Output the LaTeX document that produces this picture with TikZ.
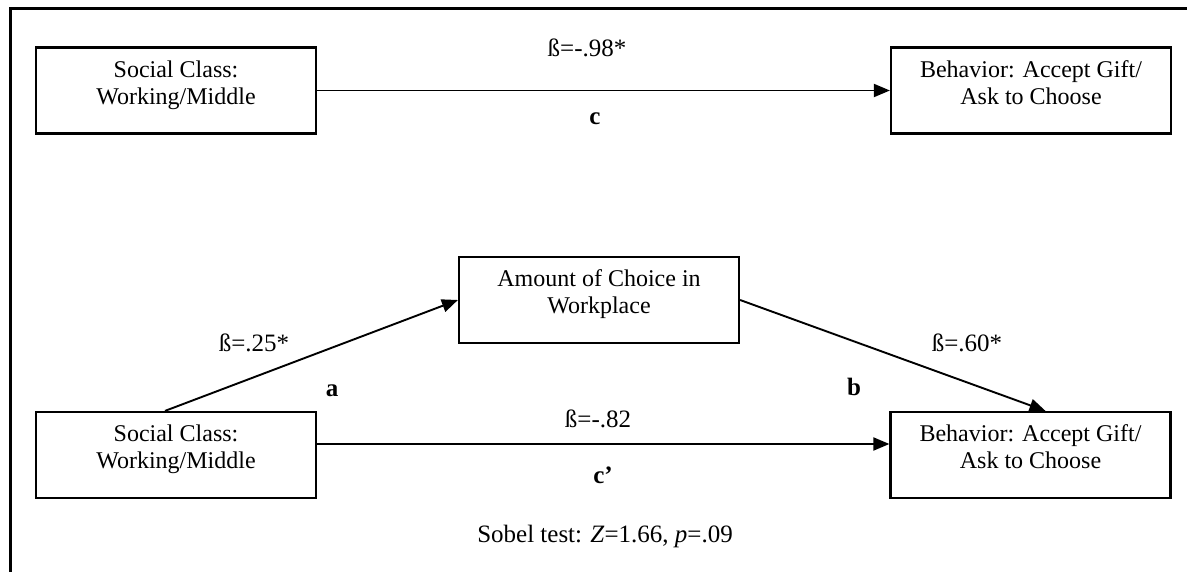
\documentclass[tikz,border=0pt]{standalone}
\usepackage{fontspec}
\setmainfont{Liberation Serif}
\usetikzlibrary{arrows.meta,calc}
\begin{document}
\begin{tikzpicture}[x=1pt,y=-1pt,
  box/.style={draw,line width=2.2pt,minimum width=280pt,minimum height=86pt,inner sep=0pt},
  boxtext/.style={font=\fontsize{24}{27}\selectfont,align=center,inner sep=0pt,anchor=north},
  lbl/.style={font=\fontsize{25}{28}\selectfont,inner sep=0pt,anchor=base},
  arr/.style={line width=1.9pt,-{Triangle[length=16pt,width=13pt]}},
  frame/.style={line width=3pt}]
\useasboundingbox (0,0) rectangle (1187,572);
\draw[frame] (10,572) -- (10,9) -- (1187,9);
% boxes
\node[box] (tl) at (176,90.5) {};
\node[box] (tr) at (1031,90.5) {};
\node[box] (mid) at (599,300) {};
\node[box] (bl) at (176,455) {};
\node[box] (br) at (1030.5,455) {};
% box texts
\node[boxtext] (tlt) at ($(tl.north)+(0,14)$) {Social Class:\\Working/Middle};
\node[boxtext] (trt) at ($(tr.north)+(0,14)$) {Behavior: Accept Gift/\\Ask to Choose};
\node[boxtext] (midt) at ($(mid.north)+(0,14)$) {Amount of Choice in\\Workplace};
\node[boxtext] (blt) at ($(bl.north)+(0,14)$) {Social Class:\\Working/Middle};
\node[boxtext] (brt) at ($(br.north)+(0,14)$) {Behavior: Accept Gift/\\Ask to Choose};
% connectors
\draw[arr] (tl.east) -- (tr.west);
\draw[arr] ($(bl.east)+(0,-11)$) -- ($(br.west)+(0,-11)$);
\draw[arr] ($(bl.north)+(-11,0)$) -- (mid.west);
\draw[arr] (mid.east) -- ($(br.north)+(15,0)$);
% labels
\node[lbl] (l1) at (587,57) {ß=-.98*};
\node[lbl] (l2) at (595,125) {\textbf{c}};
\node[lbl] (l3) at (254,352) {ß=.25*};
\node[lbl] (l4) at (332,396) {\textbf{a}};
\node[lbl] (l5) at (854,395) {\textbf{b}};
\node[lbl] (l6) at (967,352) {ß=.60*};
\node[lbl] (l7) at (598,427) {ß=-.82};
\node[lbl] (l8) at (603,483) {\textbf{c’}};
\node[lbl] (l9) at (605,542) {Sobel test: \textit{Z}=1.66, \textit{p}=.09};
\end{tikzpicture}
\end{document}
